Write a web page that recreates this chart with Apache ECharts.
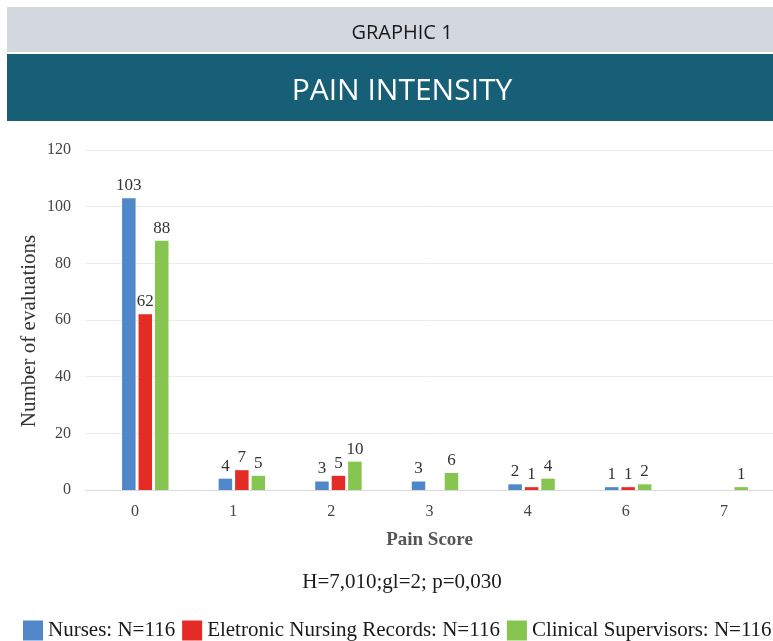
<!DOCTYPE html>
<html>
<head>
<meta charset="utf-8">
<script src="https://cdn.jsdelivr.net/npm/echarts@6/dist/echarts.min.js"></script>
<style>
  html, body { margin: 0; padding: 0; background: #fff; }
  #chart { width: 773px; height: 641px; }
</style>
</head>
<body>
<div id="chart"></div>
<script>
// pain scores on the x axis
const categories = ['0', '1', '2', '3', '4', '6', '7']
// number of evaluations per source
const nurses = [103, 4, 3, 3, 2, 1, null]
const records = [62, 7, 5, null, 1, 1, null]
const supervisors = [88, 5, 10, 6, 4, 2, 1]
const seriesNames = ['Nurses: N=116', 'Eletronic Nursing Records: N=116', 'Clinical Supervisors: N=116']
const colors = ['#4f87c9', '#e52b25', '#86c550']
const yTicks = [0, 20, 40, 60, 80, 100, 120]

const serif = '"Liberation Serif", "DejaVu Serif", serif'
const sans = '"Open Sans", "Noto Sans", sans-serif'

const chart = echarts.init(document.getElementById('chart'))

const barLabel = {
  show: true,
  position: 'top',
  distance: 4,
  fontFamily: serif,
  fontSize: 17,
  color: '#333'
}

function makeSeries(name, data, color) {
  return {
    name: name,
    type: 'bar',
    xAxisIndex: 1,
    yAxisIndex: 1,
    data: data,
    barWidth: 13.5,
    barGap: '22%',
    itemStyle: { color: color },
    label: barLabel,
    animation: false
  }
}

chart.setOption({
  color: colors,
  graphic: [
    { type: 'rect', shape: { x: 7, y: 7, width: 766, height: 45 }, style: { fill: '#d3d8df' } },
    { type: 'rect', shape: { x: 7, y: 54, width: 766, height: 67 }, style: { fill: '#175f77' } },
    {
      type: 'text',
      x: 29,
      y: 331,
      rotation: Math.PI / 2,
      style: {
        text: 'Number of evaluations',
        align: 'center',
        verticalAlign: 'middle',
        font: '21px ' + serif,
        fill: '#333'
      }
    }
  ],
  title: [
    {
      text: 'GRAPHIC 1',
      left: 397,
      top: 18,
      textAlign: 'center',
      textStyle: { fontFamily: sans, fontSize: 20, fontWeight: 'normal', color: '#1a1a1a' }
    },
    {
      text: 'PAIN INTENSITY',
      left: 397,
      top: 71,
      textAlign: 'center',
      textStyle: { fontFamily: sans, fontSize: 30, fontWeight: 'normal', color: '#ffffff' }
    },
    {
      text: 'H=7,010;gl=2; p=0,030',
      left: 397,
      top: 567,
      textAlign: 'center',
      textStyle: { fontFamily: serif, fontSize: 21, fontWeight: 'normal', color: '#1a1a1a' }
    }
  ],
  legend: {
    left: 23,
    top: 620,
    width: 800,
    padding: 0,
    itemWidth: 20,
    itemHeight: 20,
    itemGap: 7,
    icon: 'rect',
    textStyle: { fontFamily: serif, fontSize: 21, color: '#1a1a1a' },
    data: seriesNames
  },
  // grid 0 carries the axes, grid 1 the bars (shifted right as in the original)
  grid: [
    { left: 86, top: 150, width: 688, height: 340 },
    { left: 97, top: 150, width: 688, height: 340 }
  ],
  xAxis: [
    {
      type: 'category',
      gridIndex: 0,
      data: categories,
      name: 'Pain Score',
      nameLocation: 'middle',
      nameGap: 41,
      nameTextStyle: { fontFamily: serif, fontSize: 19, fontWeight: 'bold', color: '#555' },
      axisTick: { show: false },
      axisLine: { lineStyle: { color: '#d9d9d9' } },
      axisLabel: { fontFamily: serif, fontSize: 16, color: '#444', margin: 14 }
    },
    {
      type: 'category',
      gridIndex: 1,
      data: categories,
      show: false
    }
  ],
  yAxis: [
    {
      type: 'value',
      gridIndex: 0,
      min: yTicks[0],
      max: yTicks[yTicks.length - 1],
      interval: 20,
      axisLine: { show: false },
      axisTick: { show: false },
      splitLine: { lineStyle: { color: '#ebebeb' } },
      axisLabel: { fontFamily: serif, fontSize: 16, color: '#444', margin: 15 }
    },
    {
      type: 'value',
      gridIndex: 1,
      min: yTicks[0],
      max: yTicks[yTicks.length - 1],
      interval: 20,
      show: false
    }
  ],
  series: [
    makeSeries(seriesNames[0], nurses, colors[0]),
    makeSeries(seriesNames[1], records, colors[1]),
    makeSeries(seriesNames[2], supervisors, colors[2])
  ]
})
</script>
</body>
</html>
